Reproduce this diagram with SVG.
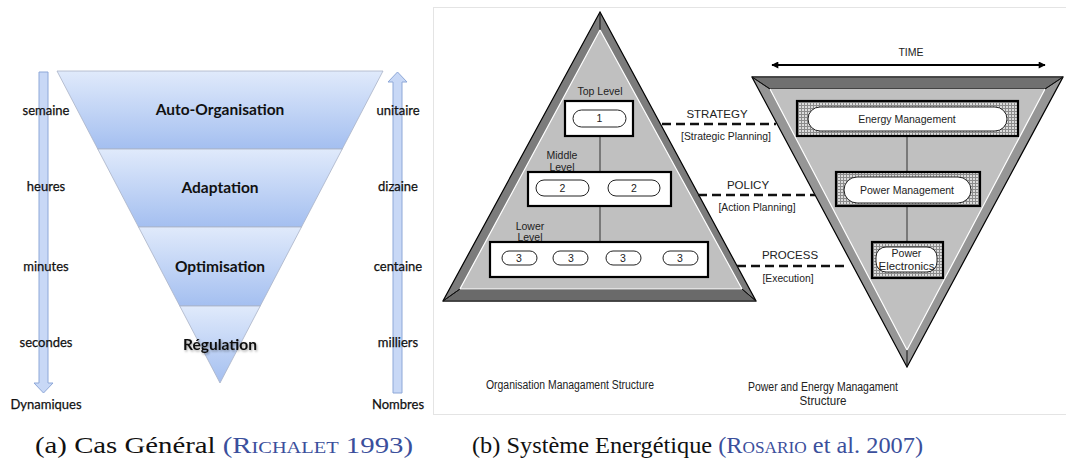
<svg xmlns="http://www.w3.org/2000/svg" width="1066" height="461" viewBox="0 0 1066 461">
<defs>
<style>
.lbl{font-family:Lato,"Open Sans",sans-serif;font-size:13px;fill:#111;text-anchor:middle;stroke:#111;stroke-width:0.25}
.band{font-family:Lato,"Open Sans",sans-serif;font-size:15.5px;font-weight:bold;fill:#111;text-anchor:middle}
.bandfill{fill:url(#bandGrad);stroke:#a9b3c6;stroke-width:0.8}
.arr{fill:#c8d8f6;stroke:#8ea8d8;stroke-width:1}
.t{font-family:"Liberation Sans",Arial,sans-serif;fill:#222;text-anchor:middle}
.box{fill:#fff;stroke:#000;stroke-width:2.2}
.sbox{fill:url(#stip);stroke:#000;stroke-width:2.2}
.pill{fill:#fff;stroke:#222;stroke-width:1}
.ln{stroke:#333;stroke-width:1;fill:none}
.dash{stroke:#111;stroke-width:2.6;stroke-dasharray:9 5;fill:none}
.cap{font-family:"Liberation Serif","Times New Roman",serif;font-size:24px;fill:#111}
.blue{fill:#3b4f9c}
.sc{font-variant:small-caps}
</style>
<linearGradient id="bandGrad" x1="0" y1="0" x2="0" y2="1">
<stop offset="0" stop-color="#e0eafb"/>
<stop offset="1" stop-color="#a4bff0"/>
</linearGradient>
<pattern id="stip" width="3" height="3" patternUnits="userSpaceOnUse">
<rect width="3" height="3" fill="#dcdcdc"/>
<path d="M0,0.5H3M0.5,0V3" stroke="#8c8c8c" stroke-width="1"/>
</pattern>
<marker id="ah" viewBox="0 0 10 10" refX="9" refY="5" markerWidth="9" markerHeight="7" markerUnits="userSpaceOnUse" orient="auto-start-reverse">
<path d="M0,0L10,5L0,10z" fill="#000"/>
</marker>
<filter id="sh" x="-10%" y="-30%" width="120%" height="160%">
<feDropShadow dx="1" dy="1.5" stdDeviation="1" flood-color="#000" flood-opacity="0.35"/>
</filter>
</defs>
<rect width="1066" height="461" fill="#fff"/>

<!-- Panel (a) -->
<g id="panel-a">
<g id="arrow-dyn">
<path class="arr" d="M39,72H48V383H53L43.5,393L34,383H39Z"/>
</g>
<g id="arrow-nb">
<path class="arr" d="M397.5,72L407,82H402V393H393V82H388Z"/>
</g>
<g id="band-auto">
<polygon class="bandfill" points="57,71 383,71 342.25,149 97.75,149"/>
<text class="band" x="220" y="115">Auto-Organisation</text>
</g>
<g id="band-adapt">
<polygon class="bandfill" points="97.75,149 342.25,149 301.5,227 138.5,227"/>
<text class="band" x="220" y="193">Adaptation</text>
</g>
<g id="band-optim">
<polygon class="bandfill" points="138.5,227 301.5,227 260.23,306 179.77,306"/>
<text class="band" x="220" y="272">Optimisation</text>
</g>
<g id="band-regul">
<polygon class="bandfill" points="179.77,306 260.23,306 220,383"/>
<text class="band" x="220" y="350" filter="url(#sh)">Régulation</text>
</g>
<g id="labels-left">
<text class="lbl" x="46" y="115">semaine</text>
<text class="lbl" x="46" y="191">heures</text>
<text class="lbl" x="46" y="271">minutes</text>
<text class="lbl" x="46" y="347">secondes</text>
<text class="lbl" x="46" y="409">Dynamiques</text>
</g>
<g id="labels-right">
<text class="lbl" x="398" y="115">unitaire</text>
<text class="lbl" x="398" y="191">dizaine</text>
<text class="lbl" x="398" y="271">centaine</text>
<text class="lbl" x="398" y="347">milliers</text>
<text class="lbl" x="398" y="409">Nombres</text>
</g>
</g>

<!-- Panel (b) -->
<rect x="433.5" y="7.5" width="640" height="407" fill="#fff" stroke="#e4e4e4" stroke-width="1"/>

<g id="pyramid">
<polygon points="600,12 443,301 756,301" fill="#7c7c7c" stroke="#000" stroke-width="1.2"/>
<polygon points="460,289 742,289 756,301 443,301" fill="#6a6a6a" stroke="#000" stroke-width="0.8"/>
<polygon points="600,30 460,289 742,289" fill="#c0c0c0"/>
<path d="M742,289L600,30L460,289H742" fill="none" stroke="#fff" stroke-width="1.2"/>
<path d="M600,12V30M443,301L460,289M756,301L742,289" stroke="#111" stroke-width="1"/>
</g>

<g id="inv-triangle">
<polygon points="752,77 1063,77 907,367" fill="#969696" stroke="#000" stroke-width="1.2"/>
<polygon points="752,77 1063,77 1045,89 770,89" fill="#707070" stroke="#000" stroke-width="0.8"/>
<polygon points="770,89 1045,89 907,350" fill="#c0c0c0"/>
<path d="M770,89L907,350L1045,89" fill="none" stroke="#fff" stroke-width="1.2"/>
<path d="M907,350V367M752,77L770,89M1063,77L1045,89" stroke="#111" stroke-width="1"/>
</g>

<g id="connectors">
<path class="ln" d="M600,136V172M600,206V242"/>
<path class="ln" d="M563,196V201H634V196"/>
<path class="ln" d="M519,265V271H571V265M571,268H623M623,265V271H678V265"/>
<path class="ln" d="M907,136V172M907,206V242"/>
<path class="dash" d="M662,124H776"/>
<path class="dash" d="M698,195H815"/>
<path class="dash" d="M737,266H849"/>
<path d="M772,65H1045" stroke="#000" stroke-width="2" marker-start="url(#ah)" marker-end="url(#ah)"/>
</g>

<g id="top-level">
<text class="t" x="600" y="95" font-size="10.5">Top Level</text>
<rect class="box" x="565" y="101" width="68" height="35"/>
<rect class="pill" x="573" y="110" width="53" height="17" rx="8.5"/>
<text class="t" x="599.5" y="122" font-size="10.5">1</text>
</g>

<g id="middle-level">
<text class="t" x="562" y="159" font-size="10.5">Middle</text>
<text class="t" x="562" y="171" font-size="10.5">Level</text>
<rect class="box" x="528" y="172" width="143" height="34"/>
<rect class="pill" x="536" y="180" width="53" height="16" rx="8"/>
<text class="t" x="562.5" y="192" font-size="10.5">2</text>
<rect class="pill" x="608" y="180" width="52" height="16" rx="8"/>
<text class="t" x="634" y="192" font-size="10.5">2</text>
</g>

<g id="lower-level">
<text class="t" x="530" y="230" font-size="10.5">Lower</text>
<text class="t" x="530" y="241" font-size="10.5">Level</text>
<rect class="box" x="490" y="242" width="218" height="35"/>
<rect class="pill" x="502" y="251" width="35" height="14" rx="7"/>
<text class="t" x="519" y="262" font-size="10.5">3</text>
<rect class="pill" x="553" y="251" width="35" height="14" rx="7"/>
<text class="t" x="571" y="262" font-size="10.5">3</text>
<rect class="pill" x="606" y="251" width="35" height="14" rx="7"/>
<text class="t" x="623" y="262" font-size="10.5">3</text>
<rect class="pill" x="663" y="251" width="35" height="14" rx="7"/>
<text class="t" x="680" y="262" font-size="10.5">3</text>
</g>

<g id="energy-mgmt">
<rect class="sbox" x="797" y="101" width="221" height="35"/>
<rect class="pill" x="808" y="107" width="199" height="24" rx="12"/>
<text class="t" x="907" y="123" font-size="10.5">Energy Management</text>
</g>

<g id="power-mgmt">
<rect class="sbox" x="836" y="172" width="144" height="34"/>
<rect class="pill" x="844" y="177" width="127" height="26" rx="13"/>
<text class="t" x="907" y="194" font-size="10.5">Power Management</text>
</g>

<g id="power-elec">
<rect class="sbox" x="872" y="242" width="71" height="36"/>
<rect class="pill" x="876" y="247" width="61" height="25" rx="10"/>
<text class="t" x="906.5" y="257" font-size="10.5">Power</text>
<text class="t" x="906.5" y="270" font-size="10.5" textLength="56" lengthAdjust="spacingAndGlyphs">Electronics</text>
</g>

<g id="link-labels">
<text class="t" x="717" y="118" font-size="11.5">STRATEGY</text>
<text class="t" x="726" y="140" font-size="10.5" textLength="90" lengthAdjust="spacingAndGlyphs">[Strategic Planning]</text>
<text class="t" x="748" y="189" font-size="11.5">POLICY</text>
<text class="t" x="757" y="211" font-size="10.5" textLength="77" lengthAdjust="spacingAndGlyphs">[Action Planning]</text>
<text class="t" x="790" y="259" font-size="11.5">PROCESS</text>
<text class="t" x="788" y="282" font-size="10.5" textLength="51" lengthAdjust="spacingAndGlyphs">[Execution]</text>
<text class="t" x="911" y="56" font-size="10.5">TIME</text>
</g>

<g id="titles-b">
<text class="t" x="570" y="389" font-size="12" textLength="168" lengthAdjust="spacingAndGlyphs">Organisation Managament Structure</text>
<text class="t" x="823" y="391" font-size="12" textLength="150" lengthAdjust="spacingAndGlyphs">Power and Energy Managament</text>
<text class="t" x="823" y="405" font-size="12" textLength="47" lengthAdjust="spacingAndGlyphs">Structure</text>
</g>

<g id="captions">
<text class="cap" x="35" y="453" textLength="378" lengthAdjust="spacingAndGlyphs">(a) Cas Général <tspan class="blue">(<tspan class="sc">Richalet</tspan> 1993)</tspan></text>
<text class="cap" x="472" y="453" textLength="451" lengthAdjust="spacingAndGlyphs">(b) Système Energétique <tspan class="blue">(<tspan class="sc">Rosario</tspan> et al. 2007)</tspan></text>
</g>
</svg>
